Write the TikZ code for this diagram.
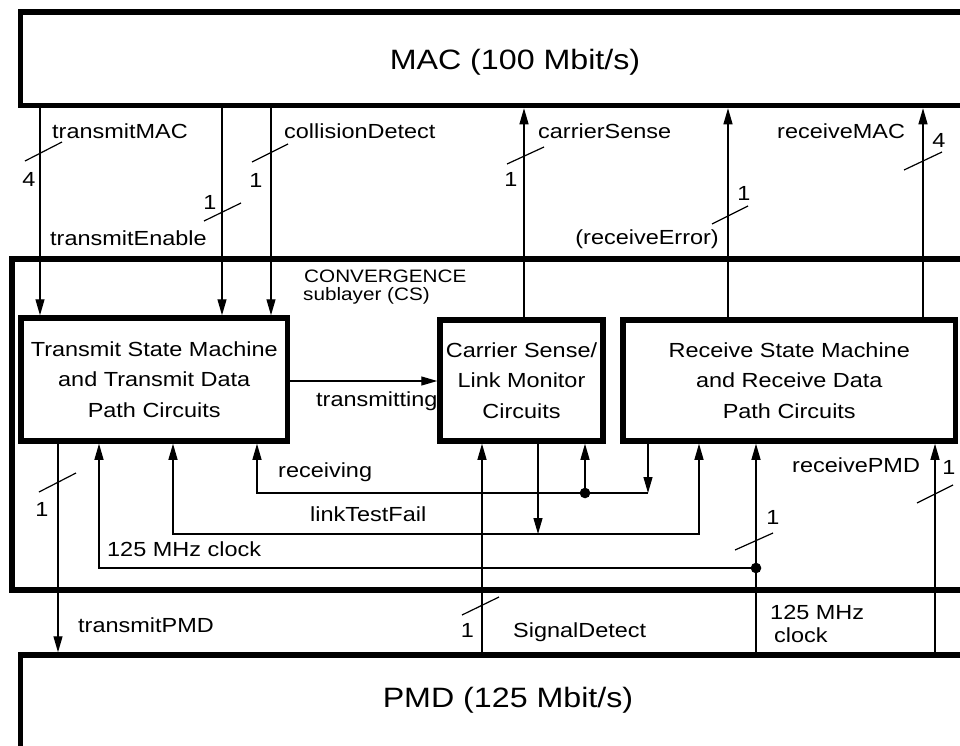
\documentclass[tikz,border=0pt]{standalone}
\usepackage{fontspec}
\setmainfont{Liberation Sans}[FakeStretch=1.15]
\usetikzlibrary{arrows.meta,calc}
\newcommand\lbfont{\fontsize{20.4}{30.5}\selectfont}
\newcommand\ttlfont{\fontsize{28}{34}\selectfont}
\newcommand\cvfont{\fontsize{18}{20}\selectfont}
\tikzset{
  bigbox/.style={draw, line width=5.5pt, inner sep=0pt},
  blockbox/.style={draw, line width=5.5pt, align=center, inner sep=0pt, font=\lbfont},
  sig/.style={line width=1.2pt, -{Triangle[length=16pt,width=9pt]}},
  sigboth/.style={line width=1.2pt, {Triangle[length=16pt,width=9pt]}-{Triangle[length=16pt,width=9pt]}},
  wire/.style={line width=1.2pt},
  tick/.style={line width=1.2pt},
  lbl/.style={font=\lbfont, inner sep=0pt},
  cvlbl/.style={font=\cvfont, inner sep=0pt},
  ttl/.style={font=\ttlfont, inner sep=0pt},
  jdot/.style={circle, fill, inner sep=0pt, minimum size=10.6pt},
}
\begin{document}
\begin{tikzpicture}[x=1pt,y=-1pt]
\useasboundingbox[fill=white] (0,0) rectangle (960,745);

% layer boxes
\node[bigbox, minimum width=989pt, minimum height=93.5pt] (mac) at (515,58.75) {};
\node[ttl] (mactitle) at (515,62) {MAC (100 Mbit/s)};
\node[bigbox, minimum width=988pt, minimum height=331pt] (cs) at (506,424.5) {};
\node[cvlbl, anchor=west] (cv1) at (304,276) {CONVERGENCE};
\node[cvlbl, anchor=west] (cv2) at (303,296) {sublayer (CS)};
\node[bigbox, minimum width=989pt, minimum height=110pt] (pmd) at (515,710) {};
\node[ttl] (pmdtitle) at (508,700) {PMD (125 Mbit/s)};

% function blocks
\node[blockbox, minimum width=266.5pt, minimum height=123pt] (tx) at (154.25,379.5)
  {Transmit State Machine\\and Transmit Data\\Path Circuits};
\node[blockbox, minimum width=163pt, minimum height=121pt] (cl) at (521.5,380.5)
  {Carrier Sense/\\Link Monitor\\Circuits};
\node[blockbox, minimum width=332.5pt, minimum height=121pt] (rx) at (789.25,380.5)
  {Receive State Machine\\and Receive Data\\Path Circuits};

% x / y positions of connectors
\coordinate (xTM) at (40,0);
\coordinate (xTE) at (222,0);
\coordinate (xCD) at (271,0);
\coordinate (xCS) at (524,0);
\coordinate (xRE) at (728,0);
\coordinate (xRM) at (923,0);
\coordinate (xTP) at (58,0);
\coordinate (xSD) at (482,0);
\coordinate (xRP) at (935,0);
\coordinate (yTR) at (0,381);

% MAC <-> CS
\draw[sig] (mac.south -| xTM) -- (tx.north -| xTM);
\draw[sig] (mac.south -| xTE) -- (tx.north -| xTE);
\draw[sig] (mac.south -| xCD) -- (tx.north -| xCD);
\draw[sig] (cl.north -| xCS) -- (mac.south -| xCS);
\draw[sig] (rx.north -| xRE) -- (mac.south -| xRE);
\draw[sig] (rx.north -| xRM) -- (mac.south -| xRM);

% transmitting
\draw[sig] (tx.east |- yTR) -- (cl.west |- yTR);

% receiving
\coordinate (rcvR) at (648,493);
\coordinate (rcvL) at (257,493);
\node[jdot] (rcvD) at (585,493) {};
\draw[sig] (rx.south -| rcvR) -- (rcvR);
\draw[sig] (rcvR) -- (rcvL) -- (tx.south -| rcvL);
\draw[sig] (rcvD.center) -- (cl.south -| rcvD);

% linkTestFail
\coordinate (ltfC) at (538,534);
\coordinate (ltfL) at (173,534);
\coordinate (ltfR) at (699,534);
\draw[sig] (cl.south -| ltfC) -- (ltfC);
\draw[sigboth] (tx.south -| ltfL) -- (ltfL) -- (ltfR) -- (rx.south -| ltfR);

% 125 MHz clock
\node[jdot] (clkD) at (756,568) {};
\coordinate (clkL) at (99,568);
\draw[sig] (pmd.north -| clkD) -- (rx.south -| clkD);
\draw[sig] (clkD.center) -- (clkL) -- (tx.south -| clkL);

% CS <-> PMD
\draw[sig] (tx.south -| xTP) -- (pmd.north -| xTP);
\draw[sig] (pmd.north -| xSD) -- (cl.south -| xSD);
\draw[sig] (pmd.north -| xRP) -- (rx.south -| xRP);

% bus-width marks
\draw[tick] (25,161) -- (62,142);
\draw[tick] (252,162) -- (288,144);
\draw[tick] (204,221) -- (241,203);
\draw[tick] (507,164) -- (544,147);
\draw[tick] (712,224) -- (748,206);
\draw[tick] (904,170) -- (942,152);
\draw[tick] (39,492) -- (76,473);
\draw[tick] (735,550) -- (773,533);
\draw[tick] (917,503) -- (953,485);
\draw[tick] (462,615) -- (499,597);

% widths
\node[lbl] (n1) at (29,179) {4};
\node[lbl] (n2) at (256,180) {1};
\node[lbl] (n3) at (210,202) {1};
\node[lbl] (n4) at (511,179) {1};
\node[lbl] (n5) at (744,193) {1};
\node[lbl] (n6) at (939,140) {4};
\node[lbl] (n7) at (42,509) {1};
\node[lbl] (n8) at (773,517) {1};
\node[lbl] (n9) at (949,467) {1};
\node[lbl] (n10) at (467.5,630) {1};

% signal names
\node[lbl, anchor=west] (l1) at (52,131) {transmitMAC};
\node[lbl, anchor=west] (l2) at (284,131) {collisionDetect};
\node[lbl, anchor=west] (l3) at (50,238) {transmitEnable};
\node[lbl, anchor=west] (l4) at (538,131) {carrierSense};
\node[lbl, anchor=east] (l5) at (719,239) {(receiveError)};
\node[lbl, anchor=west] (l6) at (777,131) {receiveMAC};
\node[lbl, anchor=west] (l7) at (316,401) {transmitting};
\node[lbl, anchor=west] (l8) at (278,472) {receiving};
\node[lbl, anchor=west] (l9) at (310,514) {linkTestFail};
\node[lbl, anchor=west] (l10) at (107,549) {125 MHz clock};
\node[lbl, anchor=west] (l11) at (792,465) {receivePMD};
\node[lbl, anchor=west] (l12) at (78,625) {transmitPMD};
\node[lbl, anchor=west] (l13) at (513,632) {SignalDetect};
\node[lbl, anchor=west] (l14) at (770,612) {125 MHz};
\node[lbl, anchor=west] (l15) at (774,635) {clock};
\end{tikzpicture}
\end{document}
